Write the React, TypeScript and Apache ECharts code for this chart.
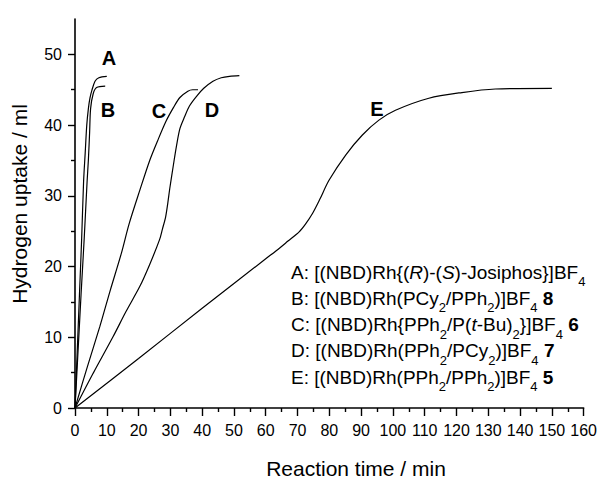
import React, { useEffect, useRef } from "react";
import * as echarts from "echarts";

const FONT = '"Liberation Sans", Arial, sans-serif';

const xTicks = [0, 10, 20, 30, 40, 50, 60, 70, 80, 90, 100, 110, 120, 130, 140, 150, 160];
const yTicks = [0, 10, 20, 30, 40, 50];

const seriesA: number[][] = [
  [0, 0], [0.7, 8], [1.4, 16], [2.1, 24], [2.7, 32], [3.2, 36], [3.7, 40], [4.2, 42.3],
  [4.7, 43.8], [5.3, 44.9], [6.3, 46.2], [7.5, 46.7], [10, 46.9],
];
const seriesB: number[][] = [
  [0, 0], [1, 8.4], [1.9, 16], [2.9, 24], [3.8, 32], [4.2, 35], [4.6, 39], [4.9, 42.3],
  [5.7, 44.4], [6.8, 45.3], [9.5, 45.5],
];
const seriesC: number[][] = [
  [0, 0], [4, 6], [7.8, 11.5], [11, 16.5], [14.6, 21.9], [17, 26], [20.4, 30.8], [23.5, 35],
  [26, 37.8], [28.7, 40.6], [31, 42.5], [33, 43.9], [35.5, 44.8], [37, 45], [38.7, 45],
];
const seriesD: number[][] = [
  [0, 0], [5.7, 4.9], [12, 10.1], [16, 13.6], [20.4, 17.2], [23.5, 20.3], [26.6, 23.8],
  [27.5, 25.3], [28.5, 27], [29.2, 29], [29.8, 31], [31, 34.5], [31.9, 37], [33, 39.5],
  [34.5, 41.2], [36, 42.7], [38.1, 44], [40.5, 45.2], [43.4, 46.2], [46, 46.7], [48.6, 46.9],
  [51.7, 47],
];
const seriesE: number[][] = [
  [0, 0], [20, 7], [40, 14.1], [60, 21.1], [64.3, 22.6], [67, 23.6], [70.5, 24.9], [72.5, 26],
  [74.7, 27.5], [77, 29.5], [79.9, 32.2], [85.2, 35.8], [90.4, 38.6], [95.6, 40.7],
  [100.8, 42.1], [111.3, 43.8], [121.7, 44.6], [132.2, 45.1], [150, 45.2],
];

const curveLetters = ["A", "B", "C", "D", "E"];
const letterPos: number[][] = [[109, 58], [108, 110], [159, 111], [212, 110], [377, 109]];

const legendLines = [
  "A: [(NBD)Rh{({i|R})-({i|S})-Josiphos}]BF{s|4}",
  "B: [(NBD)Rh(PCy{s|2}/PPh{s|2})]BF{s|4} {b|8}",
  "C: [(NBD)Rh{PPh{s|2}/P({i|t}-Bu){s|2}}]BF{s|4} {b|6}",
  "D: [(NBD)Rh(PPh{s|2}/PCy{s|2})]BF{s|4} {b|7}",
  "E: [(NBD)Rh(PPh{s|2}/PPh{s|2})]BF{s|4} {b|5}",
];
const legendY = [272, 298, 324.5, 350.5, 377];

export default function App() {
  const ref = useRef<HTMLDivElement>(null);
  useEffect(() => {
    if (!ref.current) return;
    const chart = echarts.init(ref.current, null, { renderer: "svg" });
    const mk = (d: number[][]) => ({
      type: "line",
      data: d,
      showSymbol: false,
      smooth: 0.3,
      lineStyle: { color: "#000", width: 1.2 },
      itemStyle: { color: "#000" },
      silent: true,
    });
    const rich = {
      s: {
        fontSize: 13,
        fontFamily: FONT,
        lineHeight: 2,
        verticalAlign: "top",
        padding: [14, 0, 0, 0],
        fill: "#000",
      },
      i: { fontSize: 19, fontFamily: FONT, fontStyle: "italic", lineHeight: 22, fill: "#000" },
      b: { fontSize: 19, fontFamily: FONT, fontWeight: "bold", lineHeight: 22, fill: "#000" },
    };
    const graphics: any[] = [];
    legendLines.forEach((t, i) => {
      graphics.push({
        type: "text",
        x: 291,
        y: legendY[i] - 11,
        silent: true,
        style: {
          text: t,
          fill: "#000",
          fontSize: 19,
          fontFamily: FONT,
          lineHeight: 22,
          verticalAlign: "top",
          align: "left",
          rich,
        },
      });
    });
    curveLetters.forEach((l, i) => {
      graphics.push({
        type: "text",
        x: letterPos[i][0],
        y: letterPos[i][1],
        silent: true,
        style: {
          text: l,
          fill: "#000",
          fontSize: 20,
          fontWeight: "bold",
          fontFamily: FONT,
          align: "center",
          verticalAlign: "middle",
        },
      });
    });
    graphics.push({
      type: "text",
      x: 356,
      y: 468,
      silent: true,
      style: {
        text: "Reaction time / min",
        fill: "#000",
        fontSize: 21,
        fontFamily: FONT,
        align: "center",
        verticalAlign: "middle",
      },
    });
    graphics.push({
      type: "text",
      x: 19,
      y: 204,
      rotation: Math.PI / 2,
      silent: true,
      style: {
        text: "Hydrogen uptake / ml",
        fill: "#000",
        fontSize: 21,
        fontFamily: FONT,
        align: "center",
        verticalAlign: "middle",
      },
    });

    chart.setOption({
      animation: false,
      backgroundColor: "#fff",
      grid: { left: 75, right: 14, top: 19, bottom: 70, containLabel: false },
      xAxis: {
        type: "value",
        min: 0,
        max: 160,
        interval: 10,
        axisLine: { show: true, onZero: false, lineStyle: { color: "#000", width: 1.6 } },
        axisTick: { show: true, length: 8, lineStyle: { color: "#000", width: 1.4 }, customValues: xTicks },
        minorTick: { show: true, splitNumber: 2, length: 4, lineStyle: { color: "#000", width: 1.4 } },
        axisLabel: { color: "#000", fontSize: 16, fontFamily: FONT, margin: 14, customValues: xTicks },
        splitLine: { show: false },
      },
      yAxis: {
        type: "value",
        min: 0,
        max: 55,
        interval: 10,
        axisLine: { show: true, onZero: false, lineStyle: { color: "#000", width: 1.6 } },
        axisTick: { show: true, length: 7, lineStyle: { color: "#000", width: 1.4 }, customValues: yTicks },
        minorTick: { show: true, splitNumber: 2, length: 4, lineStyle: { color: "#000", width: 1.4 } },
        axisLabel: { color: "#000", fontSize: 16, fontFamily: FONT, margin: 13, customValues: yTicks },
        splitLine: { show: false },
      },
      series: [mk(seriesA), mk(seriesB), mk(seriesC), mk(seriesD), mk(seriesE)],
      graphic: graphics,
    });
    return () => chart.dispose();
  }, []);
  return (
    <div
      ref={ref}
      style={{ width: 600, height: 478, position: "fixed", left: 0, top: 0 }}
    />
  );
}
